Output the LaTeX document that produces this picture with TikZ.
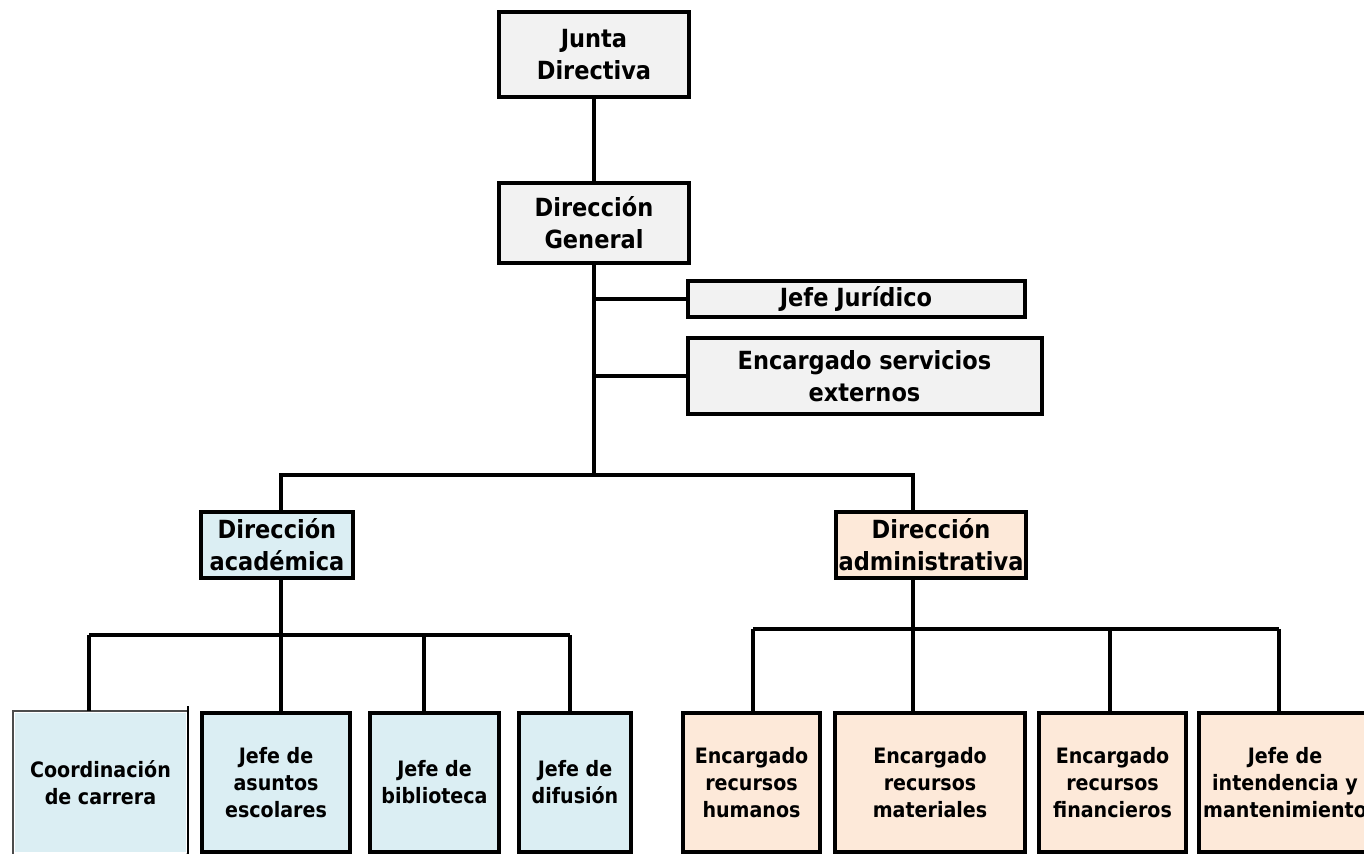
\documentclass[tikz,border=0pt]{standalone}
\usepackage{fontspec}
\setmainfont{DejaVu Sans Condensed}
\usetikzlibrary{positioning}
\definecolor{grisclaro}{HTML}{F2F2F2}
\definecolor{azulclaro}{HTML}{DBEEF3}
\definecolor{durazno}{HTML}{FDE9D9}
\tikzstyle{puesto}=[draw=black,line width=2pt,align=center,inner sep=0pt,
  font=\bfseries\fontsize{12.5}{16}\selectfont]
\tikzstyle{general}=[puesto,fill=grisclaro]
\tikzstyle{academico}=[puesto,fill=azulclaro]
\tikzstyle{administra}=[puesto,fill=durazno]
\tikzstyle{jefatura}=[minimum height=69.5pt,font=\bfseries\fontsize{10.6}{13.5}\selectfont]

\begin{document}
\begin{tikzpicture}[x=0.5pt,y=-0.5pt,line width=1.8pt]
  \useasboundingbox (0,0) rectangle (1364,854);

  % direccion
  \node[general,minimum width=95pt,minimum height=42.5pt] (junta) at (594,55) {Junta\\Directiva};
  \node[general,minimum width=95pt,minimum height=40pt]   (dg) at (594,223) {Dirección\\General};
  \node[general,minimum width=168.5pt,minimum height=18pt] (jur) at (856,299) {Jefe Jurídico};
  \node[general,minimum width=177pt,minimum height=38pt]
       (ext) [below=8.5pt of jur.south west,anchor=north west] {Encargado servicios\\externos};
  \coordinate (cruce) at (594,475);

  % segundo nivel
  \node[academico,minimum width=76pt,minimum height=33pt]  (acad) at (277,545) {Dirección\\académica};
  \node[administra,minimum width=95pt,minimum height=33pt] (adm) at (931,545) {Dirección\\administrativa};

  % area academica
  \node[jefatura,fill=azulclaro,minimum width=85.5pt,align=center,inner sep=0pt]
       (coord) at (100.5,782.5) {Coordinación\\de carrera};
  \node[academico,jefatura,minimum width=74pt]   (asuntos) at (276,782.5) {Jefe de\\asuntos\\escolares};
  \node[academico,jefatura,minimum width=64.5pt] (biblio) [right=8pt of asuntos] {Jefe de\\biblioteca};
  \node[academico,jefatura,minimum width=56pt]   (difu) [right=8pt of biblio] {Jefe de\\difusión};

  % area administrativa
  \node[administra,jefatura,minimum width=68.5pt] (rh) at (751.5,782.5) {Encargado\\recursos\\humanos};
  \node[administra,jefatura,minimum width=95pt]   (rm) [right=5.5pt of rh] {Encargado\\recursos\\materiales};
  \node[administra,jefatura,minimum width=73.5pt] (rf) [right=5pt of rm] {Encargado\\recursos\\financieros};
  \node[administra,jefatura,minimum width=86pt]   (mant) [right=4.5pt of rf] {Jefe de\\intendencia y\\mantenimiento};

  % borde de coordinacion
  \draw[line width=1pt,black!70] (coord.south west) -- (coord.north west) -- (coord.north east);
  \draw[line width=1.2pt] ([yshift=2.5pt]coord.north east) -- ([yshift=-3pt]coord.south east);
  \draw[line width=1.2pt] ([xshift=-2.5pt,yshift=-2pt]coord.south west) -- ([yshift=-2pt]coord.south east);
  \draw[line width=1pt] ([xshift=-2pt,yshift=-2pt]coord.south east) arc (180:0:1.5pt);

  % lineas
  \draw (junta) -- (dg);
  \draw (dg) -- (cruce);
  \draw (jur.west) -- (jur.west -| cruce);
  \draw (ext.west) -- (ext.west -| cruce);

  \foreach \n/\x in {coord/89,asuntos/281,biblio/424,difu/570}
    \coordinate (t-\n) at (\x,635);
  \foreach \n/\x in {rh/753,rm/913,rf/1110,mant/1279}
    \coordinate (t-\n) at (\x,629);

  \draw (acad.north -| t-asuntos) |- (cruce) -| (adm.north -| t-rm);
  \draw (acad.south -| t-asuntos) -- (t-asuntos);
  \draw (adm.south -| t-rm) -- (t-rm);
  \draw (t-coord) -- (t-difu);
  \draw (t-rh) -- (t-mant);
  \foreach \n in {coord,asuntos,biblio,difu,rh,rm,rf,mant}
    \draw (t-\n) -- (t-\n |- \n.north);
\end{tikzpicture}
\end{document}
